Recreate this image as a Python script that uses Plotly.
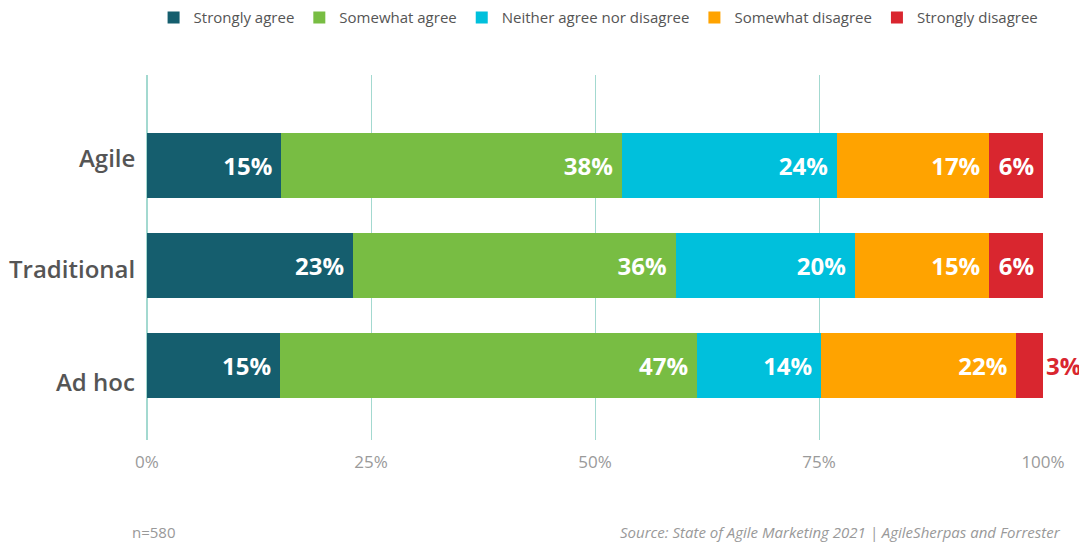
import plotly.graph_objects as go

categories = ["Agile", "Traditional", "Ad hoc"]
series_names = ["Strongly agree", "Somewhat agree", "Neither agree nor disagree",
                "Somewhat disagree", "Strongly disagree"]
strongly_agree = [15, 23, 15]
somewhat_agree = [38, 36, 47]
neither = [24, 20, 14]
somewhat_disagree = [17, 15, 22]
strongly_disagree = [6, 6, 3]
colors = ["#155e6e", "#78bd43", "#00c0dc", "#ffa300", "#d9262f"]
x_ticks = [0, 25, 50, 75, 100]
x_ticklabels = ["0%", "25%", "50%", "75%", "100%"]

series_values = [strongly_agree, somewhat_agree, neither, somewhat_disagree, strongly_disagree]

FONT = "Open Sans"
PAD = "\u2005"
fig = go.Figure()
for name, vals, col in zip(series_names, series_values, colors):
    is_last = name == "Strongly disagree"
    if is_last:
        tpos = ["inside", "inside", "outside"]
        tcol = ["white", "white", col]
        texts = [f"{v}%{PAD}" for v in vals[:2]] + [f"{vals[2]}%"]
    else:
        tpos = "inside"
        tcol = "white"
        texts = [f"{v}%{PAD}" for v in vals]
    fig.add_trace(go.Bar(
        y=categories, x=vals, name=name, orientation="h",
        marker=dict(color=col, line=dict(width=0)),
        text=texts,
        textposition=tpos,
        insidetextanchor="end",
        textfont=dict(family=FONT, size=24, color=tcol, weight=700),
        outsidetextfont=dict(family=FONT, size=24, color=col, weight=700),
        cliponaxis=False,
        width=0.65,
        hoverinfo="skip",
    ))

fig.update_layout(
    barmode="stack", barnorm="percent",
    width=1087, height=543,
    margin=dict(l=139, r=52, t=67, b=111, autoexpand=False),
    plot_bgcolor="white", paper_bgcolor="white",
    font=dict(family=FONT),
    uniformtext=dict(minsize=24, mode="show"),
    legend=dict(orientation="h", x=0.504, xanchor="center", y=0.982, yanchor="middle",
                yref="container", traceorder="normal",
                font=dict(family=FONT, size=15, color="#555555"),
                itemwidth=30),
    showlegend=True,
)
fig.update_xaxes(range=[0, 100], tickvals=x_ticks, ticktext=x_ticklabels,
                 showgrid=True, gridcolor="#a3d9d0", gridwidth=1.3,
                 zeroline=True, zerolinecolor="#a3d9d0", zerolinewidth=2,
                 showline=False, ticks="", ticklabelstandoff=10, automargin=False,
                 tickfont=dict(family=FONT, size=17, color="#9a9a9a"))
fig.update_yaxes(categoryorder="array", categoryarray=categories,
                 range=[2.75, -0.9], showgrid=False, zeroline=False, showline=False,
                 ticks="", showticklabels=False, automargin=False)

# category labels (slightly offset from bar centres, as in the original)
label_shifts = [8, -3, -16]
for cat, dy in zip(categories, label_shifts):
    fig.add_annotation(text=cat, xref="paper", yref="y", x=0, y=cat,
                       xanchor="right", yanchor="middle", xshift=-10, yshift=dy,
                       showarrow=False,
                       font=dict(family=FONT, size=24, color="#555555", weight=600))

fig.add_annotation(text="n=580", xref="paper", yref="paper", x=-0.019, y=-0.252,
                   xanchor="left", yanchor="middle", showarrow=False,
                   font=dict(family=FONT, size=15, color="#999999"))
fig.add_annotation(text="<i>Source: State of Agile Marketing 2021 | AgileSherpas and Forrester</i>",
                   xref="paper", yref="paper", x=1.022, y=-0.252,
                   xanchor="right", yanchor="middle", showarrow=False,
                   font=dict(family=FONT, size=15, color="#999999"))

fig.write_html("out.html")
